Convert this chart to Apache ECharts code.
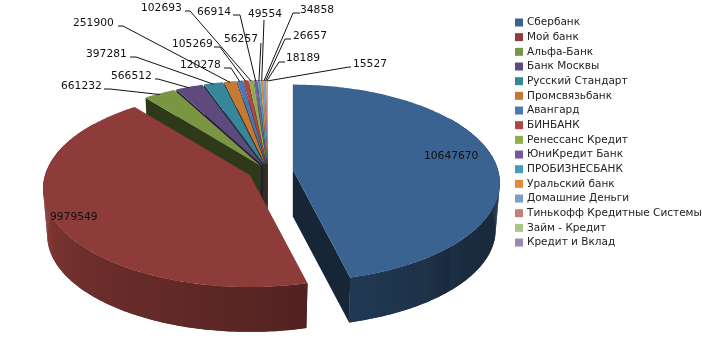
<!DOCTYPE html>
<html><head><meta charset="utf-8">
<style>html,body{margin:0;padding:0;background:#fff}#c{width:702px;height:363px}</style>
<script src="https://cdn.jsdelivr.net/npm/echarts@6/dist/echarts.min.js"></script>
</head><body><div id="c"></div>
<script>
const categories = ['Сбербанк','Мой банк','Альфа-Банк','Банк Москвы','Русский Стандарт','Промсвязьбанк','Авангард','БИНБАНК','Ренессанс Кредит','ЮниКредит Банк','ПРОБИЗНЕСБАНК','Уральский банк','Домашние Деньги','Тинькофф Кредитные Системы','Займ - Кредит','Кредит и Вклад'];
const values = [10647670,9979549,661232,566512,397281,251900,120278,105269,102693,66914,56257,49554,34858,26657,18189,15527];
const colors = ['#3b6392','#8e3c39','#7a9643','#5f4a7e','#36879c','#c47a34','#4a7ab5','#b04644','#8fac4e','#77599a','#41a0b8','#e08a3e','#7d9cc8','#c47e7c','#aec487','#9b89b6'];
// label layout: text left x, text centre y; leader start x, y, elbow x
const labelAnchors = [[424,156],[50,217],[61,86],[111,76],[86,54],[73,23],[180,65],[172,44],[141,8],[197,12],[224,39],[248,14],[300,10],[293,36],[286,58],[353,64]];
const leaderStarts = [null,null,[104,89,110],[155,79,158],[130,57,136],[118,26,123],[224,68,231],[214,47,220],[185,11,190],[233,15,240],[261,43,261],[264,20,264],[300,13,293],[291,39,285],[285,62,279],[351,67,349]];

const BASE=[268,171],RX=205,RY=96.6,K=0.137,DEPTH=47,SCALE2=0.98,SQUASH=0.47;
const total=values.reduce((a,b)=>a+b,0);
const rad=d=>d*Math.PI/180;
let acc=0;
const slices=values.map((v,i)=>{const a0=acc/total*360;acc+=v;const a1=acc/total*360;const mid=(a0+a1)/2;
  const e=i===0?25:i===1?20:13;
  return {i,a0,a1,mid,cx:BASE[0]+e*Math.sin(rad(mid)),cy:BASE[1]-e*Math.cos(rad(mid))*SQUASH};});
function proj(s,deg,low){const u=Math.sin(rad(deg)),v=Math.cos(rad(deg)),w=1+K*v,f=low?SCALE2:1;
  return [s.cx+f*RX*u/w,s.cy+(low?DEPTH:0)-f*RY*v/w];}
function shade(hex,f){const n=parseInt(hex.slice(1),16);const c=[n>>16,(n>>8)&255,n&255].map(x=>Math.round(x*f));return `rgb(${c.join(',')})`;}
function wallFactor(deg){return 0.42+0.5*Math.max(0,Math.min(1,(deg-120)/150));}
function poly(points,fill,extra){return Object.assign({type:'polygon',shape:{points},style:{fill}},extra||{});}
function wallVisible(s,edge,inner){const A=[s.cx,s.cy],P=proj(s,edge),Q=proj(s,inner);
  const dx=P[0]-A[0],dy=P[1]-A[1];const cross=dx*(Q[1]-A[1])-dy*(Q[0]-A[0]);return cross*dx<0;}
function d2(a,b,j,n){return a+(b-a)*j/n;}
function renderSlice(s,color){
  const ch=[];const A=[s.cx,s.cy],B=[s.cx,s.cy+DEPTH];
  const span=s.a1-s.a0;
  [[s.a0,s.a0+span/2],[s.a1,s.a1-span/2]].forEach(([edge,inner])=>{
    if(wallVisible(s,edge,inner)) ch.push(poly([A,proj(s,edge),proj(s,edge,true),B],shade(color,0.38)));
  });
  // outer wall: ruled quads plus one body, all under a horizontal gradient along the near arc
  const w0=Math.max(s.a0,55),w1=Math.min(s.a1,305);
  if(w1>w0){
    const n=Math.ceil(w1-w0),up=[],dn=[];
    for(let j=0;j<=n;j++){const d=d2(w0,w1,j,n);up.push(proj(s,d));dn.unshift(proj(s,d,true));}
    const xs=up.map(p=>p[0]),xR=Math.max(...xs),xL=Math.min(...xs),stops=[];
    for(let j=0;j<=n;j+=Math.max(1,Math.floor(n/12))){const d=Math.min(d2(w0,w1,j,n),275);
      stops.push({offset:Math.max(0,Math.min(1,(xR-proj(s,d)[0])/(xR-xL))),color:shade(color,wallFactor(d))});}
    stops.sort((a,b)=>a.offset-b.offset);
    const grad={type:'linear',global:true,x:xR,y:0,x2:xL,y2:0,colorStops:stops};
    for(let j=0;j<n;j++){const d0=d2(w0,w1,j,n),d1=d2(w0,w1,j+1,n);
      ch.push(poly([proj(s,d0),proj(s,d1),proj(s,d1,true),proj(s,d0,true)],grad));}
    ch.push(poly(up.concat(dn),grad));
  }
  const top=[A];const t=Math.max(2,Math.ceil(span));
  for(let j=0;j<=t;j++) top.push(proj(s,s.a0+span*j/t));
  ch.push(poly(top,color));
  return {type:'group',children:ch};
}
const paintOrder=slices.slice().sort((a,b)=>Math.cos(rad(b.mid))-Math.cos(rad(a.mid)));
const series=paintOrder.map((s,rank)=>({type:'custom',name:categories[s.i],coordinateSystem:'none',z:2+rank,silent:true,
  itemStyle:{color:colors[s.i]},data:[[values[s.i]]],renderItem:()=>renderSlice(s,colors[s.i])}));
const FONT='"DejaVu Sans"';
series.push({type:'custom',name:'labels',coordinateSystem:'none',z:40,silent:true,data:[[0]],renderItem:()=>{
  const ch=[];
  slices.forEach(s=>{const a=labelAnchors[s.i],l=leaderStarts[s.i];
    if(l){const end=proj(s,s.mid);
      ch.push({type:'polyline',shape:{points:[[l[0],l[1]],[l[2],l[1]],[end[0],end[1]+1]]},style:{stroke:'#111',lineWidth:1,fill:null}});}
    ch.push({type:'text',style:{x:a[0],y:a[1],text:String(values[s.i]),fill:'#111',font:'10.7px '+FONT,textAlign:'left',textVerticalAlign:'middle'}});
  });
  return {type:'group',children:ch};}});
const chart=echarts.init(document.getElementById('c'),null,{renderer:'canvas'});
chart.setOption({animation:false,backgroundColor:'#fff',
  legend:{data:categories,orient:'vertical',left:515,top:17,icon:'rect',itemWidth:8,itemHeight:8,itemGap:3.67,selectedMode:false,padding:0,
    textStyle:{fontFamily:FONT,fontSize:10.5,color:'#222',padding:[0,0,0,-1],lineHeight:8}},
  series});
</script></body></html>
